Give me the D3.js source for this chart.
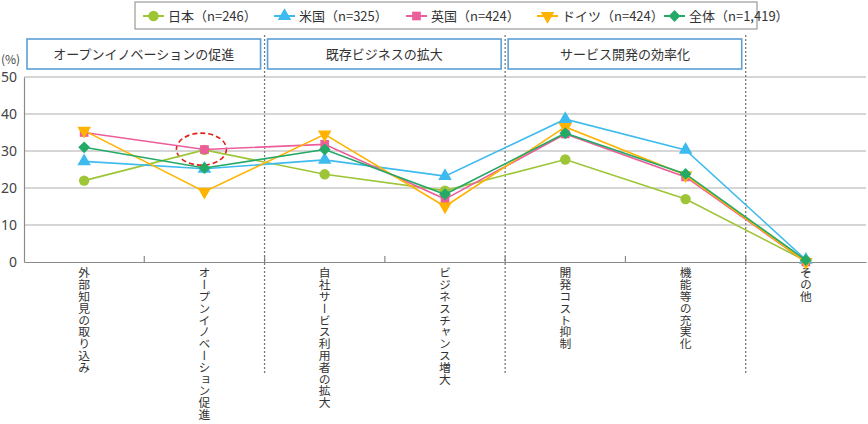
<!DOCTYPE html>
<html><head><meta charset="utf-8">
<script src="https://cdnjs.cloudflare.com/ajax/libs/d3/7.8.5/d3.min.js"></script>
<style>
html,body{margin:0;padding:0;background:#fff;}
svg{display:block;font-family:"Noto Sans CJK JP","Noto Sans",sans-serif;}
</style></head>
<body><svg id="c" width="868" height="424"></svg>
<script>
const categories = ["外部知見の取り込み","オープンイノベーション促進","自社サービス利用者の拡大","ビジネスチャンス増大","開発コスト抑制","機能等の充実化","その他"];
const seriesNames = ["日本（n=246）","米国（n=325）","英国（n=424）","ドイツ（n=424）","全体（n=1,419）"];
const japan   = [22.0, 30.3, 23.7, 19.3, 27.7, 17.0, 0.3];
const usa     = [27.2, 25.2, 27.6, 23.2, 38.6, 30.3, 0.6];
const uk      = [35.0, 30.4, 31.8, 17.0, 34.6, 23.0, 0.0];
const germany = [35.5, 19.0, 34.5, 15.0, 36.5, 23.5, 0.0];
const total   = [31.0, 25.4, 30.4, 18.3, 34.8, 23.8, 0.5];
const yTicks = [0,10,20,30,40,50];
const groupNames = ["オープンイノベーションの促進","既存ビジネスの拡大","サービス開発の効率化"];
const groupStart = [0,2,4];
const groupEnd = [1,3,5];

const colors = ["#9dc536","#3dbbef","#ec5d9b","#ffb300","#25a967"];
const shapes = ["circle","up","square","down","diamond"];
const sizes = [85, 80, 75, 80, 70];
const values = [japan, usa, uk, germany, total];

const svg = d3.select("#c");
const x = d3.scaleBand().domain(categories).range([24, 866]);
const y = d3.scaleLinear().domain([0,50]).range([262, 77]);
const cx = c => x(c) + x.bandwidth()/2;

// gridlines
svg.append("g").selectAll("line").data(yTicks.filter(t=>t>0)).join("line")
  .attr("x1", 24).attr("x2", 866).attr("y1", d=>y(d)).attr("y2", d=>y(d))
  .attr("stroke", "#c8c8c8").attr("stroke-width", 1.6);

// y axis
const ya = svg.append("g").attr("transform","translate(24,0)")
  .call(d3.axisLeft(y).tickValues(yTicks).tickSize(0).tickPadding(7));
ya.select(".domain").attr("stroke","#8a8a8a").attr("stroke-width",1.2);
ya.selectAll("text").attr("font-size",14).attr("fill","#444").attr("font-family","'Noto Sans','Noto Sans CJK JP',sans-serif");
svg.append("text").attr("x",1).attr("y",64).attr("font-size",12).attr("fill","#444").text("(%)");

// x axis
const xa = svg.append("g").attr("transform","translate(0,262)")
  .call(d3.axisBottom(x).tickSize(0).tickFormat(""));
xa.select(".domain").attr("stroke","#8a8a8a").attr("stroke-width",1.2);
const boundaries = categories.slice(1).map(c => x(c));
svg.append("g").selectAll("line").data(boundaries).join("line")
  .attr("x1", d=>d).attr("x2", d=>d).attr("y1", 262).attr("y2", 256)
  .attr("stroke","#8a8a8a").attr("stroke-width",1.2);

// dotted separators
const seps = groupEnd.map(i => x(categories[i]) + x.bandwidth());
svg.append("g").selectAll("line").data(seps).join("line")
  .attr("x1", d=>d).attr("x2", d=>d).attr("y1", 35).attr("y2", 375)
  .attr("stroke","#777").attr("stroke-width",1.3).attr("stroke-dasharray","2,2");

// group header boxes
groupNames.forEach((g,i) => {
  const x0 = x(categories[groupStart[i]]) + 3;
  const x1 = x(categories[groupEnd[i]]) + x.bandwidth() - 4;
  svg.append("rect").attr("x", x0).attr("y", 39).attr("width", x1-x0).attr("height", 30)
    .attr("fill","#fff").attr("stroke","#5b9fd6").attr("stroke-width",1.6);
  svg.append("text").attr("x",(x0+x1)/2).attr("y",59).attr("text-anchor","middle")
    .attr("font-size",13).attr("fill","#333").text(g);
});

// x labels vertical
svg.append("g").selectAll("text").data(categories).join("text")
  .attr("x", d=>cx(d)).attr("y", 267)
  .attr("writing-mode","vertical-rl")
  .attr("font-size",11.8).attr("fill","#333")
  .style("text-orientation","upright")
  .text(d=>d);

function sym(i){
  const t = {circle:d3.symbolCircle, up:d3.symbolTriangle, down:d3.symbolTriangle,
             square:d3.symbolSquare, diamond:d3.symbolSquare}[shapes[i]];
  return d3.symbol().type(t).size(sizes[i])();
}
function symRot(i){
  if (shapes[i]==="down") return " rotate(180)";
  if (shapes[i]==="diamond") return " rotate(45)";
  return "";
}

// highlight ellipse
svg.append("ellipse").attr("cx", cx(categories[1])-3).attr("cy", y(30.5)).attr("rx",25).attr("ry",16)
  .attr("fill","none").attr("stroke","#e0201b").attr("stroke-width",1.6).attr("stroke-dasharray","5,3");

// series
const line = d3.line().x((d,i)=>cx(categories[i])).y(d=>y(d));
values.forEach((vals,i) => {
  const g = svg.append("g");
  g.append("path").datum(vals).attr("d", line).attr("fill","none")
    .attr("stroke", colors[i]).attr("stroke-width", 1.6);
  g.selectAll("path.m").data(vals).join("path").attr("class","m")
    .attr("d", sym(i))
    .attr("transform", (d,j)=>`translate(${cx(categories[j])},${y(d)})${symRot(i)}`)
    .attr("fill", colors[i]);
});

// legend
svg.append("rect").attr("x",135).attr("y",2).attr("width",622).attr("height",27)
  .attr("fill","#fff").attr("stroke","#9a9a9a").attr("stroke-width",1.2);
const legX = [143, 274, 406, 537, 664];
seriesNames.forEach((n,i) => {
  const g = svg.append("g").attr("transform",`translate(${legX[i]},16)`);
  g.append("line").attr("x1",0).attr("x2",21).attr("stroke",colors[i]).attr("stroke-width",2);
  g.append("path").attr("d", sym(i)).attr("transform",`translate(10.5,0)${symRot(i)}`).attr("fill",colors[i]);
  g.append("text").attr("x",25).attr("y",5).attr("font-size",13).attr("fill","#333").text(n);
});
</script></body></html>
